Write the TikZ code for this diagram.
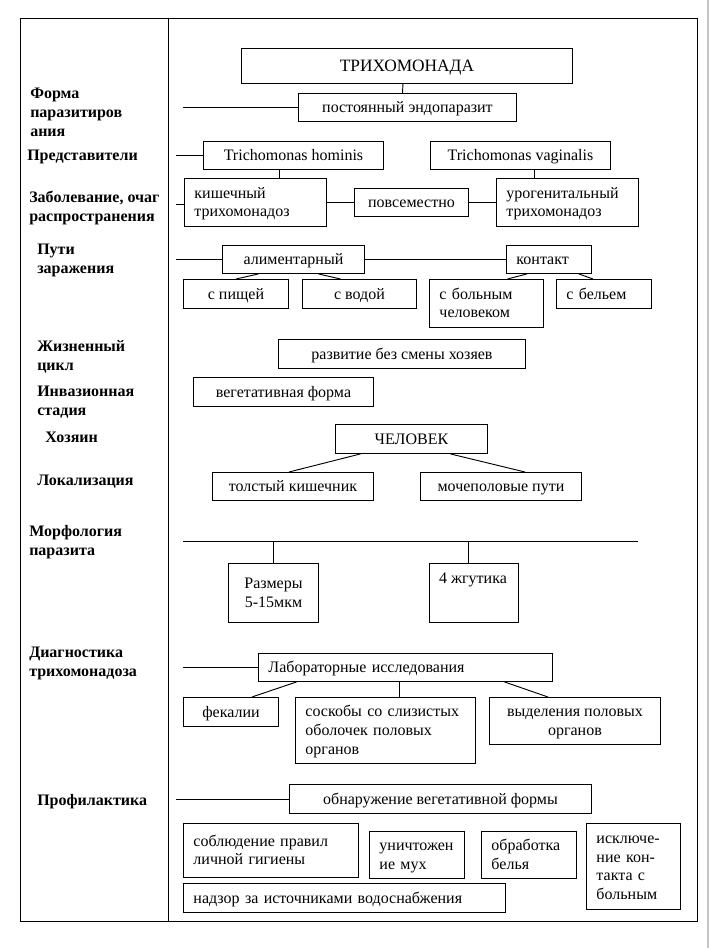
\documentclass[tikz,border=0pt]{standalone}
\usepackage{fontspec}
\setmainfont{Liberation Serif}
\usetikzlibrary{calc}
\newcommand\bx[7][]{%
  \pgfmathsetlengthmacro\bxw{(#5-#3)*0.75}%
  \pgfmathsetlengthmacro\bxh{(#6-#4)*0.75}%
  \node[box, minimum width=\bxw, minimum height=\bxh, anchor=north west, #1] (#2) at (#3,#4) {\vphantom{Йу}#7\vphantom{Йу}};%
}
\newcommand\bxl[7][]{%
  \pgfmathsetlengthmacro\bxw{(#5-#3)*0.75}%
  \pgfmathsetlengthmacro\bxh{(#6-#4)*0.75}%
  \pgfmathsetlengthmacro\bxt{(#5-#3)*0.75-15}%
  \node[box, minimum width=\bxw, minimum height=\bxh, text width=\bxt, align=left, anchor=north west, #1] (#2) at (#3,#4) {\vphantom{Йу}#7\vphantom{Йу}};%
}
\tikzset{
  box/.style={draw, line width=0.7pt, inner xsep=7.5pt, inner ysep=0pt, align=center, font=\fontsize{12}{14}\selectfont},
  lbl/.style={font=\fontsize{12}{14.25}\selectfont\bfseries, align=left, anchor=west, inner sep=0pt},
  ln/.style={line width=0.7pt}
}
\begin{document}
\begin{tikzpicture}[x=0.75pt, y=-0.75pt]
\useasboundingbox (0,0) rectangle (711,948);
\fill[white] (0,0) rectangle (711,948);
\draw[gray!45, line width=1pt] (708,0) -- (708,948);
% frame
\draw[ln] (20,18) rectangle (697,921);
\draw[ln] (168,18) -- (168,921);
% left labels
\node[lbl] (l1) at (30,112) {Форма\\паразитиров\\ания};
\node[lbl] (l2) at (27,157) {Представители};
\node[lbl] (l3) at (29,208) {Заболевание, очаг\\распространения};
\node[lbl] (l4) at (37,260) {Пути\\заражения};
\node[lbl] (l5) at (37,357) {Жизненный\\цикл};
\node[lbl] (l6) at (37,402) {Инвазионная\\стадия};
\node[lbl] (l7) at (45,437) {Хозяин};
\node[lbl] (l8) at (37,482) {Локализация};
\node[lbl] (l9) at (29,542) {Морфология\\паразита};
\node[lbl] (l10) at (29,663) {Диагностика\\трихомонадоза};
\node[lbl] (l11) at (37,802) {Профилактика};
% boxes
\bx[font=\fontsize{13}{15}\selectfont]{tri}{241}{48}{572}{83}{ТРИХОМОНАДА}
\bx{post}{298}{93}{516}{121}{постоянный эндопаразит}
\bx{hom}{203}{141}{383}{169}{Trichomonas hominis}
\bx{vag}{430}{141}{610}{169}{Trichomonas vaginalis}
\bxl{kish}{184}{178}{326}{226}{кишечный\\трихомонадоз}
\bx{pov}{354}{188}{468}{216}{повсеместно}
\bxl{uro}{496}{178}{638}{226}{урогенитальный\\трихомонадоз}
\bx{alim}{222}{245}{364}{273}{алиментарный}
\bxl{kont}{506}{245}{591}{273}{контакт}
\bx{pish}{183}{279}{288}{308}{с пищей}
\bx{voda}{302}{279}{416}{308}{с водой}
\bxl{bol}{429}{279}{543}{327}{с больным\\человеком}
\bxl{bel}{556}{279}{651}{308}{с бельем}
\bx{razv}{278}{339}{525}{368}{развитие без смены хозяев}
\bx{veg}{193}{377}{373}{406}{вегетативная форма}
\bx{chel}{335}{424}{487}{453}{ЧЕЛОВЕК}
\bx{tol}{212}{472}{373}{500}{толстый кишечник}
\bx{moch}{420}{472}{581}{500}{мочеполовые пути}
\bx{razm}{228}{563}{318}{622}{Размеры\\5-15мкм}
\bx{zhg}{429}{563}{518}{622}{}
\node[font=\fontsize{12}{14}\selectfont, inner sep=0pt] (zhgt) at (473,578) {\vphantom{Йу}4 жгутика};
\bxl{lab}{258}{653}{552}{681}{Лабораторные исследования}
\bx{fek}{183}{697}{278}{726}{фекалии}
\bxl{sosk}{295}{697}{475}{763}{соскобы со слизистых\\оболочек половых\\органов}
\bx{vyd}{489}{697}{660}{744}{выделения половых\\органов}
\bx{obn}{289}{784}{591}{813}{обнаружение вегетативной формы}
\bxl{sobl}{183}{823}{358}{877}{соблюдение правил\\личной гигиены}
\bxl{unich}{369}{831}{464}{878}{уничтожен\\ие мух}
\bxl{obr}{481}{831}{576}{878}{обработка\\белья}
\bxl{iskl}{586}{823}{680}{909}{исключе-\\ние кон-\\такта с\\больным}
\bxl{nadz}{183}{883}{505}{912}{надзор за источниками водоснабжения}
% connectors
\coordinate (s1) at (183,107);
\draw[ln] (s1) -- (s1 -| post.west);
\draw[ln] ($(tri.south)+(-4,0)$) -- ($(post.north)+(-5,0)$);
\coordinate (s2) at (176,155);
\draw[ln] (s2) -- (s2 -| hom.west);
\draw[ln] ($(hom.south)+(-14,0)$) -- ($(kish.north)+(24,0)$);
\coordinate (s3) at (176,204);
\draw[ln] (s3) -- (s3 -| kish.west);
\draw[ln] (kish.east) -- (pov.west);
\draw[ln] (pov.east) -- (uro.west);
\draw[ln] ($(vag.south)+(14,0)$) -- ($(uro.north)+(-33,0)$);
\coordinate (s4) at (176,259);
\draw[ln] (s4) -- (s4 -| alim.west);
\draw[ln] (alim.east) -- (kont.west);
\draw[ln] ($(alim.south)+(-35,0)$) -- (pish.north);
\draw[ln] ($(alim.south)+(25,0)$) -- ($(voda.north)+(-19,0)$);
\draw[ln] ($(kont.south)+(-22,0)$) -- ($(bol.north)+(21,0)$);
\draw[ln] ($(kont.south)+(30,0)$) -- ($(bel.north)+(-11,0)$);
\draw[ln] ($(chel.south)+(-51,0)$) -- ($(tol.north)+(-4,0)$);
\draw[ln] ($(chel.south)+(39,0)$) -- ($(moch.north)+(24,0)$);
\coordinate (m1) at (183,541);
\coordinate (m2) at (638,541);
\draw[ln] (m1) -- (m2);
\draw[ln] (razm.north) -- (razm.north |- m1);
\coordinate (zt) at ($(zhg.north)+(-6,0)$);
\draw[ln] (zt) -- (zt |- m1);
\coordinate (s5) at (183,667);
\draw[ln] (s5) -- (s5 -| lab.west);
\draw[ln] ($(lab.south)+(-109,0)$) -- ($(fek.north)+(21,0)$);
\draw[ln] ($(lab.south)+(-6,0)$) -- ($(sosk.north)+(14,0)$);
\draw[ln] ($(lab.south)+(99,0)$) -- ($(vyd.north)+(-27,0)$);
\coordinate (s6) at (176,799);
\draw[ln] (s6) -- (s6 -| obn.west);
\end{tikzpicture}
\end{document}
